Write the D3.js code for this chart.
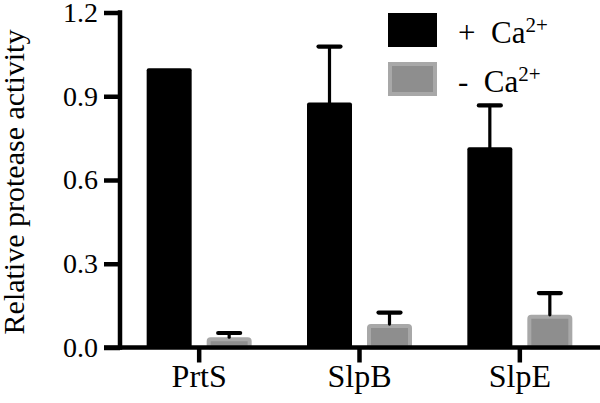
<!DOCTYPE html>
<html>
<head>
<meta charset="utf-8">
<script src="https://cdn.jsdelivr.net/npm/d3@7"></script>
<style>
  html, body { margin: 0; padding: 0; background: #fff; }
  svg { display: block; }
  text { font-family: "Liberation Serif", "Times New Roman", serif; fill: #000; }
</style>
</head>
<body>
<svg id="chart" width="600" height="403"></svg>
<script>
const categories = ["PrtS", "SlpB", "SlpE"];
const seriesNames = ["+ Ca", "- Ca"];
const withCa = [1.0, 0.878, 0.717];
const withCaErr = [0, 0.20, 0.15];
const withoutCa = [0.037, 0.084, 0.117];
const withoutCaErr = [0.015, 0.041, 0.078];
const yTicks = [0, 0.3, 0.6, 0.9, 1.2];
const yTitle = "Relative protease activity";

const svg = d3.select("#chart");
const W = 600, H = 403;

const x = d3.scaleBand().domain(categories).range([119, 600]).padding(0);
const groupW = 105;
const xs = d3.scaleBand().domain(seriesNames).range([0, groupW]).paddingInner(0.25);
const y = d3.scaleLinear().domain([0, 1.2]).range([347.5, 12.5]);

const colors = { "+ Ca": "#000000", "- Ca": "#8e8e8e" };
const strokeCol = { "+ Ca": "#000000", "- Ca": "#a8a8a8" };

const rows = [];
categories.forEach((c, i) => {
  rows.push({ cat: c, s: "+ Ca", v: withCa[i], e: withCaErr[i] });
  rows.push({ cat: c, s: "- Ca", v: withoutCa[i], e: withoutCaErr[i] });
});
const bx = d => x(d.cat) + (x.bandwidth() - groupW) / 2 + xs(d.s);

// bars
svg.append("g").selectAll("rect").data(rows).join("rect")
  .attr("x", d => bx(d) + (d.s === "- Ca" ? 2 : 0))
  .attr("y", d => y(d.v) + (d.s === "- Ca" ? 2 : 0))
  .attr("width", d => xs.bandwidth() - (d.s === "- Ca" ? 4 : 0))
  .attr("height", d => y(0) - y(d.v) - (d.s === "- Ca" ? 2 : 0))
  .attr("rx", 2)
  .attr("fill", d => colors[d.s])
  .attr("stroke", d => d.s === "- Ca" ? strokeCol[d.s] : "none")
  .attr("stroke-width", 4);

// error bars
const eg = svg.append("g").attr("stroke", "#000").attr("stroke-linecap", "round");
const er = rows.filter(d => d.e > 0);
eg.selectAll("line.stem").data(er).join("line")
  .attr("class", "stem")
  .attr("x1", d => bx(d) + xs.bandwidth() / 2)
  .attr("x2", d => bx(d) + xs.bandwidth() / 2)
  .attr("y1", d => y(d.v))
  .attr("y2", d => y(d.v + d.e))
  .attr("stroke-width", 3.2);
eg.selectAll("line.cap").data(er).join("line")
  .attr("class", "cap")
  .attr("x1", d => bx(d) + xs.bandwidth() / 2 - 11)
  .attr("x2", d => bx(d) + xs.bandwidth() / 2 + 11)
  .attr("y1", d => y(d.v + d.e))
  .attr("y2", d => y(d.v + d.e))
  .attr("stroke-width", 4.2);

// y axis
const yAxis = d3.axisLeft(y).tickValues(yTicks).tickFormat(d3.format(".1f"))
  .tickSizeInner(16).tickSizeOuter(0).tickPadding(7);
const ya = svg.append("g").attr("transform", "translate(120,0)").call(yAxis);
ya.select(".domain").attr("stroke", "#000").attr("stroke-width", 4.5)
  .attr("d", `M0,${y(1.2) - 2.2}V${y(0) + 2.2}`);
ya.selectAll(".tick line").attr("stroke", "#000").attr("stroke-width", 4.5);
ya.selectAll(".tick text").attr("font-size", 28).attr("font-family", "Liberation Serif")
  .attr("fill", "#000").attr("x", -22);

// x axis
const xAxis = d3.axisBottom(x).tickSizeInner(15).tickSizeOuter(0).tickPadding(8);
const xa = svg.append("g").attr("transform", `translate(0,${y(0)})`).call(xAxis);
xa.select(".domain").attr("stroke", "#000").attr("stroke-width", 4.5)
  .attr("d", `M104,0H600`);
xa.selectAll(".tick line").attr("stroke", "#000").attr("stroke-width", 4.5);
xa.selectAll(".tick text").attr("font-size", 32).attr("font-family", "Liberation Serif")
  .attr("fill", "#000").attr("dy", "0.71em").attr("y", 17);

// y title
svg.append("text")
  .attr("transform", `translate(24,${(y(0) + y(1.2)) / 2 + 2}) rotate(-90)`)
  .attr("text-anchor", "middle")
  .attr("font-size", 30)
  .text(yTitle);

// legend
const legY = [13, 62];
const lg = svg.append("g");
seriesNames.forEach((s, i) => {
  const r = lg.append("rect")
    .attr("x", s === "- Ca" ? 390 : 388)
    .attr("y", legY[i] + (s === "- Ca" ? 2 : 0))
    .attr("width", s === "- Ca" ? 45 : 49)
    .attr("height", s === "- Ca" ? 30 : 34)
    .attr("fill", colors[s]);
  if (s === "- Ca") r.attr("stroke", strokeCol[s]).attr("stroke-width", 4);
  const t = lg.append("text")
    .attr("x", 458)
    .attr("y", legY[i] + 30)
    .attr("font-size", 31)
    .style("white-space", "pre");
  t.append("tspan").text(s.replace(" ", "  "));
  t.append("tspan").attr("font-size", 21).attr("dy", -11).text("2+");
});
</script>
</body>
</html>
